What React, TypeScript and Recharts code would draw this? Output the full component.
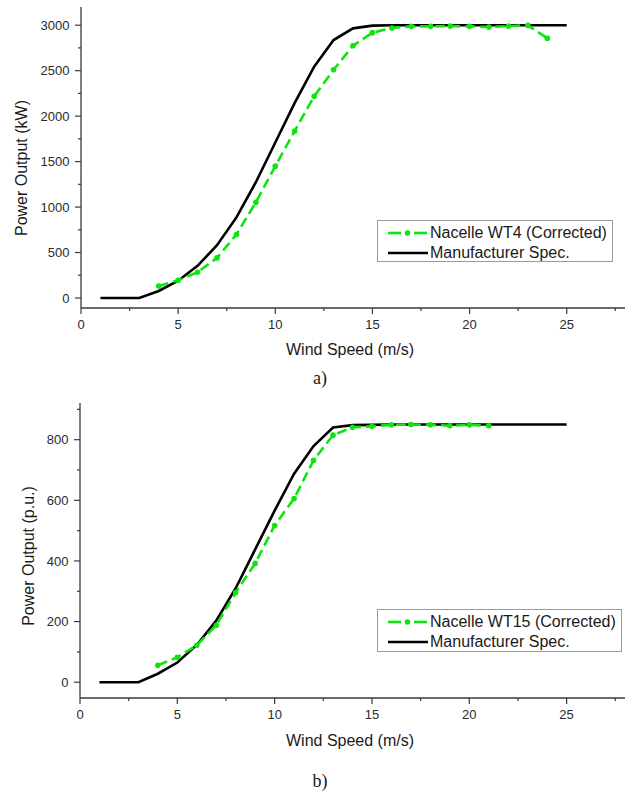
import React from 'react';
import { LineChart, Line, XAxis, YAxis, Legend } from 'recharts';

// ---------- data ----------
const windSpeeds = [1, 2, 3, 4, 5, 6, 7, 8, 9, 10, 11, 12, 13, 14, 15, 16, 17, 18, 19, 20, 21, 22, 23, 24, 25];

// a) 3 MW turbine
const specA = [0, 0, 0, 77, 190, 353, 581, 886, 1273, 1710, 2145, 2544, 2837, 2965, 2995, 3000, 3000, 3000, 3000, 3000, 3000, 3000, 3000, 3000, 3000];
const nacelleASpeeds = [4, 5, 6, 7, 8, 9, 10, 11, 12, 13, 14, 15, 16, 17, 18, 19, 20, 21, 22, 23, 24];
const nacelleA = [132, 195, 283, 441, 699, 1052, 1450, 1837, 2218, 2510, 2774, 2918, 2969, 2987, 2987, 2990, 2987, 2980, 2990, 2998, 2856];

// b) 850 kW turbine
const specB = [0, 0, 0, 28, 65, 123, 203, 310, 438, 566, 688, 779, 840, 848, 849, 850, 850, 850, 850, 850, 850, 850, 850, 850, 850];
const nacelleBSpeeds = [4, 5, 6, 7, 8, 9, 10, 11, 12, 13, 14, 15, 16, 17, 18, 19, 20, 21];
const nacelleB = [56, 82, 122, 188, 296, 392, 517, 606, 732, 815, 841, 844, 849, 850, 849, 846, 849, 846];

// ticks
const xTicks = [0, 2.5, 5, 7.5, 10, 12.5, 15, 17.5, 20, 22.5, 25, 27.5];
const yTicksA = [0, 250, 500, 750, 1000, 1250, 1500, 1750, 2000, 2250, 2500, 2750, 3000];
const yTicksB = [0, 100, 200, 300, 400, 500, 600, 700, 800, 900];

const labelsA = { spec: 'Manufacturer Spec.', nacelle: 'Nacelle WT4 (Corrected)' };
const labelsB = { spec: 'Manufacturer Spec.', nacelle: 'Nacelle WT15 (Corrected)' };

// ---------- helpers ----------
const buildTable = (spec: number[], nSpeeds: number[], nVals: number[]) =>
  windSpeeds.map((x, i) => {
    const j = nSpeeds.indexOf(x);
    return { x, spec: spec[i], nacelle: j >= 0 ? nVals[j] : undefined };
  });

const tableA = buildTable(specA, nacelleASpeeds, nacelleA);
const tableB = buildTable(specB, nacelleBSpeeds, nacelleB);

const GREEN = '#0fe40f';
const AXIS = '#3a3a3a';
const TXT = '#2a2a2a';
const SANS = '"Liberation Sans", Arial, sans-serif';

const makeXTick = () => (props: any) => {
  const { x, y, payload } = props;
  const major = payload.value % 5 === 0;
  return (
    <g>
      <line x1={x} x2={x} y1={y} y2={y + (major ? 6 : 3)} stroke={AXIS} strokeWidth={1.2} />
      {major && (
        <text x={x} y={y + 20.5} textAnchor="middle" fontSize={13} fontFamily={SANS} fill={TXT}>
          {payload.value}
        </text>
      )}
    </g>
  );
};

const makeYTick = (step: number) => (props: any) => {
  const { x, y, payload } = props;
  const major = payload.value % step === 0;
  return (
    <g>
      <line x1={x - (major ? 6 : 3)} x2={x} y1={y} y2={y} stroke={AXIS} strokeWidth={1.2} />
      {major && (
        <text x={x - 11.5} y={y + 4.6} textAnchor="end" fontSize={13} fontFamily={SANS} fill={TXT}>
          {payload.value}
        </text>
      )}
    </g>
  );
};

const makeLegend = (labels: { spec: string; nacelle: string }) => () => (
  <div
    style={{
      border: '1px solid #9a9a9a',
      background: '#fff',
      boxSizing: 'border-box',
      width: '100%',
      height: '100%',
      paddingTop: 2,
      fontFamily: SANS,
      fontSize: 16,
      color: '#1a1a1a',
    }}
  >
    <div style={{ display: 'flex', alignItems: 'center', height: 20 }}>
      <svg width={52} height={20} style={{ flex: 'none' }}>
        <line x1={10} x2={23} y1={10} y2={10} stroke={GREEN} strokeWidth={2.6} />
        <line x1={36} x2={49} y1={10} y2={10} stroke={GREEN} strokeWidth={2.6} />
        <circle cx={29.5} cy={10} r={2.8} fill={GREEN} />
      </svg>
      <span style={{ whiteSpace: 'nowrap', lineHeight: '20px' }}>{labels.nacelle}</span>
    </div>
    <div style={{ display: 'flex', alignItems: 'center', height: 20 }}>
      <svg width={52} height={20} style={{ flex: 'none' }}>
        <line x1={10} x2={50} y1={10} y2={10} stroke="#000" strokeWidth={2.6} />
      </svg>
      <span style={{ whiteSpace: 'nowrap', lineHeight: '20px' }}>{labels.spec}</span>
    </div>
  </div>
);

const titleStyle = (cx: number, cy: number, rotate: boolean, font: string, size: number): React.CSSProperties => ({
  position: 'absolute',
  left: cx,
  top: cy,
  transform: `translate(-50%, -50%)${rotate ? ' rotate(-90deg)' : ''}`,
  whiteSpace: 'nowrap',
  fontFamily: font,
  fontSize: size,
  lineHeight: 1,
  color: '#1a1a1a',
});

type PanelProps = {
  data: any[];
  top: number;
  height: number;
  yWidth: number;
  marginTop: number;
  yDomain: [number, number];
  yTicks: number[];
  yStep: number;
  labels: { spec: string; nacelle: string };
  legendBox: { left: number; top: number; width: number; height: number };
};

const Panel = ({ data, top, height, yWidth, marginTop, yDomain, yTicks, yStep, labels, legendBox }: PanelProps) => (
  <div style={{ position: 'absolute', left: 0, top, width: 638, height }}>
    <LineChart width={638} height={height} data={data} margin={{ top: marginTop, right: 13, left: 0, bottom: 0 }}>
      <XAxis
        dataKey="x"
        type="number"
        domain={[0, 28]}
        ticks={xTicks}
        interval={0}
        tickSize={0}
        tickMargin={0}
        tickLine={false}
        tick={makeXTick()}
        axisLine={{ stroke: AXIS, strokeWidth: 1.3 }}
        height={82}
      />
      <YAxis
        type="number"
        domain={yDomain}
        ticks={yTicks}
        interval={0}
        tickSize={0}
        tickMargin={0}
        tickLine={false}
        tick={makeYTick(yStep)}
        axisLine={{ stroke: AXIS, strokeWidth: 1.3 }}
        width={yWidth}
      />
      <Legend
        layout="horizontal"
        verticalAlign="middle"
        align="center"
        content={makeLegend(labels)}
        wrapperStyle={{ position: 'absolute', left: legendBox.left, top: legendBox.top, width: legendBox.width, height: legendBox.height }}
      />
      <Line
        type="linear"
        dataKey="spec"
        name={labels.spec}
        stroke="#000"
        strokeWidth={2.6}
        dot={false}
        isAnimationActive={false}
      />
      <Line
        type="linear"
        dataKey="nacelle"
        name={labels.nacelle}
        stroke={GREEN}
        strokeWidth={2.6}
        strokeDasharray="10 5"
        dot={{ r: 2.8, fill: GREEN, stroke: 'none', strokeDasharray: '' }}
        isAnimationActive={false}
      />
    </LineChart>
  </div>
);

export default function App() {
  return (
    <div style={{ position: 'absolute', left: 0, top: 0, width: 638, height: 796, background: '#fff', overflow: 'hidden' }}>
      <Panel
        data={tableA}
        top={0}
        height={390}
        yWidth={81}
        marginTop={7}
        yDomain={[-110, 3200]}
        yTicks={yTicksA}
        yStep={500}
        labels={labelsA}
        legendBox={{ left: 377, top: 220, width: 236, height: 42 }}
      />
      <Panel
        data={tableB}
        top={395}
        height={385}
        yWidth={80}
        marginTop={8}
        yDomain={[-52, 921]}
        yTicks={yTicksB}
        yStep={200}
        labels={labelsB}
        legendBox={{ left: 377, top: 214, width: 245, height: 43 }}
      />
      <div style={titleStyle(22, 168, true, SANS, 16)}>Power Output (kW)</div>
      <div style={titleStyle(350, 350, false, SANS, 16)}>Wind Speed (m/s)</div>
      <div style={titleStyle(320, 378, false, '"Liberation Serif", "Times New Roman", serif', 18)}>a)</div>
      <div style={titleStyle(29, 556, true, SANS, 16)}>Power Output (p.u.)</div>
      <div style={titleStyle(350, 741, false, SANS, 16)}>Wind Speed (m/s)</div>
      <div style={titleStyle(320, 781, false, '"Liberation Serif", "Times New Roman", serif', 18)}>b)</div>
    </div>
  );
}
